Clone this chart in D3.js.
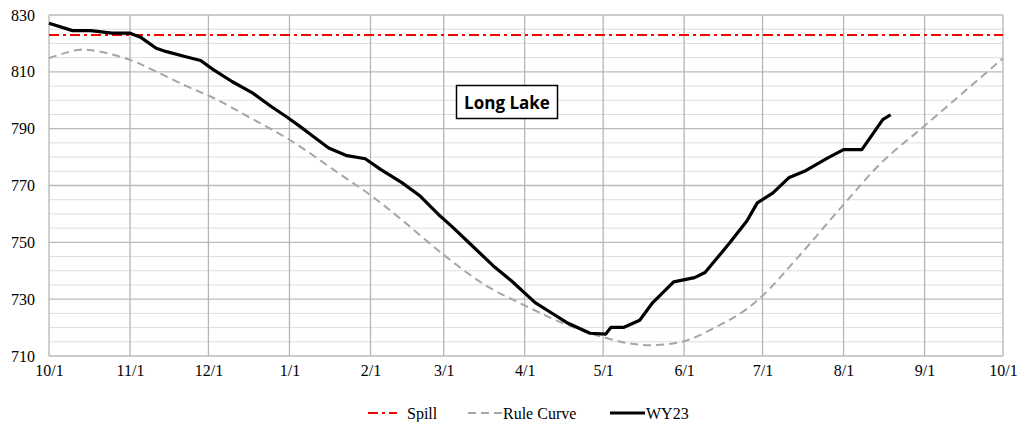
<!DOCTYPE html>
<html>
<head>
<meta charset="utf-8">
<script src="https://cdn.jsdelivr.net/npm/d3@7"></script>
<style>
  html, body { margin: 0; padding: 0; background: #fff; }
  svg { display: block; }
</style>
</head>
<body>
<svg id="chart" width="1026" height="422"></svg>
<script>
// ---------- DATA ----------
const xTickLabels = ["10/1","11/1","12/1","1/1","2/1","3/1","4/1","5/1","6/1","7/1","8/1","9/1","10/1"];
const xTickDates = ["2022-10-01","2022-11-01","2022-12-01","2023-01-01","2023-02-01","2023-03-01","2023-04-01","2023-05-01","2023-06-01","2023-07-01","2023-08-01","2023-09-01","2023-10-01"];
const yTickValues = [710, 730, 750, 770, 790, 810, 830];

const spillLevel = 823;

const ruleDates = ["2022-10-01","2022-10-12","2022-10-18","2022-11-01","2022-11-11","2022-11-23","2022-12-03","2022-12-16","2023-01-01","2023-01-20","2023-02-01","2023-02-13","2023-03-01","2023-03-17","2023-04-01","2023-04-15","2023-05-01","2023-05-16","2023-06-01","2023-06-14","2023-06-23","2023-07-01","2023-07-15","2023-08-01","2023-08-16","2023-09-01","2023-10-01"];
const ruleValues = [814.8,817.7,817.5,814.2,810.1,804.8,800.8,794.3,786.1,774.2,766.6,757.9,745.6,734.9,727.8,721.8,716.6,713.9,715.2,720.6,725.3,731.2,745.2,763.3,778.5,791.0,814.8];

const wyDates = ["2022-10-01","2022-10-10","2022-10-17","2022-10-25","2022-11-01","2022-11-05","2022-11-11","2022-11-15","2022-11-22","2022-11-28","2022-12-03","2022-12-10","2022-12-18","2022-12-25","2022-12-31","2023-01-05","2023-01-10","2023-01-16","2023-01-23","2023-01-30","2023-02-05","2023-02-13","2023-02-20","2023-02-27","2023-03-04","2023-03-12","2023-03-20","2023-03-27","2023-04-05","2023-04-11","2023-04-17","2023-04-26","2023-05-02","2023-05-04","2023-05-09","2023-05-15","2023-05-20","2023-05-28","2023-06-05","2023-06-09","2023-06-18","2023-06-25","2023-06-29","2023-07-05","2023-07-11","2023-07-17","2023-07-26","2023-08-01","2023-08-08","2023-08-16","2023-08-19"];
const wyValues = [827.1,824.5,824.5,823.6,823.6,822.2,818.3,817.1,815.4,814.0,810.7,806.6,802.5,797.8,794.1,790.8,787.3,783.2,780.5,779.4,775.6,771.0,766.3,759.8,755.7,748.7,741.7,736.4,728.8,725.3,721.8,718.0,717.7,720.1,720.1,722.6,728.8,736.1,737.6,739.4,749.3,757.5,763.9,767.4,772.7,775.0,779.7,782.6,782.6,793.2,794.9];

// ---------- CHART ----------
const parse = d3.timeParse("%Y-%m-%d");
const svg = d3.select("#chart");
const margin = {left: 49, right: 1026 - 1003, top: 15, bottom: 422 - 356};
const W = 1026, H = 422;

const x = d3.scaleTime()
  .domain([parse(xTickDates[0]), parse(xTickDates[xTickDates.length - 1])])
  .range([margin.left, W - margin.right]);
const y = d3.scaleLinear().domain([710, 830]).range([H - margin.bottom, margin.top]);

const serif = "'Liberation Serif','Times New Roman',serif";
const fs = 16;

// minor horizontal grid
const minor = d3.range(710, 831, 5).filter(v => v % 20 !== 10);
svg.append("g").selectAll("line").data(minor).join("line")
  .attr("x1", x.range()[0]).attr("x2", x.range()[1])
  .attr("y1", d => y(d)).attr("y2", d => y(d))
  .attr("stroke", "#dedede").attr("stroke-width", 1);

// major horizontal grid
svg.append("g").selectAll("line").data(yTickValues).join("line")
  .attr("x1", x.range()[0]).attr("x2", x.range()[1])
  .attr("y1", d => y(d)).attr("y2", d => y(d))
  .attr("stroke", "#bbbbbb").attr("stroke-width", 1.3);

// vertical grid
svg.append("g").selectAll("line").data(xTickDates).join("line")
  .attr("x1", d => x(parse(d))).attr("x2", d => x(parse(d)))
  .attr("y1", y(830)).attr("y2", y(710))
  .attr("stroke", "#b5b5b5").attr("stroke-width", 1.3);

// y axis labels
const yAxis = d3.axisLeft(y).tickValues(yTickValues).tickSize(0).tickPadding(14).tickFormat(d3.format("d"));
const gy = svg.append("g").attr("transform", `translate(${margin.left},0)`).call(yAxis);
gy.select(".domain").remove();
gy.selectAll("text").attr("font-family", serif).attr("font-size", fs).attr("fill", "#000");

// x axis labels
const xAxis = d3.axisBottom(x).tickValues(xTickDates.map(parse)).tickSize(0).tickPadding(9)
  .tickFormat((d, i) => xTickLabels[i]);
const gx = svg.append("g").attr("transform", `translate(0,${y(710)})`).call(xAxis);
gx.select(".domain").remove();
gx.selectAll("text").attr("font-family", serif).attr("font-size", fs).attr("fill", "#000");

// spill line
svg.append("line")
  .attr("x1", x.range()[0]).attr("x2", x.range()[1])
  .attr("y1", y(spillLevel)).attr("y2", y(spillLevel))
  .attr("stroke", "#ff0000").attr("stroke-width", 2)
  .attr("stroke-dasharray", "10,4,3,4");

// rule curve
const ruleData = ruleDates.map((d, i) => ({date: parse(d), v: ruleValues[i]}));
svg.append("path").datum(ruleData)
  .attr("fill", "none").attr("stroke", "#a6a6a6").attr("stroke-width", 2)
  .attr("stroke-dasharray", "8,5")
  .attr("d", d3.line().x(d => x(d.date)).y(d => y(d.v)).curve(d3.curveCatmullRom.alpha(0.5)));

// WY23
const wyData = wyDates.map((d, i) => ({date: parse(d), v: wyValues[i]}));
svg.append("path").datum(wyData)
  .attr("fill", "none").attr("stroke", "#000").attr("stroke-width", 3.2)
  .attr("stroke-linejoin", "round")
  .attr("d", d3.line().x(d => x(d.date)).y(d => y(d.v)));

// title box
const tg = svg.append("g");
tg.append("rect").attr("x", 456.5).attr("y", 85.5).attr("width", 101).attr("height", 33)
  .attr("fill", "#fff").attr("stroke", "#000").attr("stroke-width", 1.5);
tg.append("text").attr("x", 507).attr("y", 102).attr("text-anchor", "middle")
  .attr("dominant-baseline", "central")
  .attr("font-family", "'Open Sans','Liberation Sans',sans-serif").attr("font-weight", "bold")
  .attr("font-size", 17).attr("fill", "#000").text("Long Lake");

// legend
const legend = [
  {label: "Spill", x1: 368, x2: 397, tx: 407, color: "#ff0000", dash: "10,4,3,4", w: 2},
  {label: "Rule Curve", x1: 468, x2: 502, tx: 503, color: "#a6a6a6", dash: "8,5", w: 2},
  {label: "WY23", x1: 610, x2: 645, tx: 646, color: "#000", dash: null, w: 3.2}
];
const ly = 413;
const lg = svg.append("g");
legend.forEach(l => {
  lg.append("line").attr("x1", l.x1).attr("x2", l.x2).attr("y1", ly).attr("y2", ly)
    .attr("stroke", l.color).attr("stroke-width", l.w)
    .attr("stroke-dasharray", l.dash);
  lg.append("text").attr("x", l.tx).attr("y", ly)
    .attr("dominant-baseline", "central")
    .attr("font-family", serif).attr("font-size", fs).attr("fill", "#000").text(l.label);
});
</script>
</body>
</html>
